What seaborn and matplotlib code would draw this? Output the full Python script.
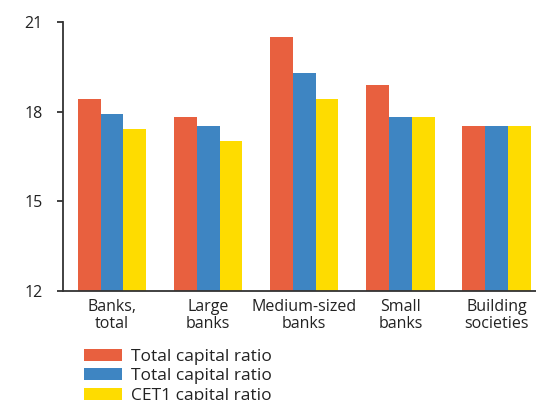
import matplotlib
matplotlib.use("Agg")
import matplotlib.pyplot as plt
import seaborn as sns
import pandas as pd
from matplotlib.patches import Patch

# Capital ratios by institution group (per cent)
categories = ["Banks,\ntotal", "Large\nbanks", "Medium-sized\nbanks", "Small\nbanks", "Building\nsocieties"]
total_ratio_a = [18.42, 17.82, 20.49, 18.89, 17.52]
total_ratio_b = [17.92, 17.52, 19.29, 17.82, 17.52]
cet1_ratio = [17.42, 17.02, 18.42, 17.82, 17.52]

series_keys = ["total_a", "total_b", "cet1"]
series_labels = ["Total capital ratio", "Total capital ratio", "CET1 capital ratio"]
series_colors = ["#E8603F", "#3E85C2", "#FEDC00"]

y_ticks = [12, 15, 18, 21]

df = pd.DataFrame({
    "category": categories * 3,
    "series": [series_keys[0]] * 5 + [series_keys[1]] * 5 + [series_keys[2]] * 5,
    "value": total_ratio_a + total_ratio_b + cet1_ratio,
})

sns.set_theme(style="white")
plt.rcParams["font.family"] = ["Open Sans", "DejaVu Sans"]

fig = plt.figure(figsize=(5.36, 4.0), dpi=100)
ax = fig.add_axes([63 / 536, 1 - 291 / 400, 1 - 63 / 536, (291 - 22) / 400])

sns.barplot(
    data=df, x="category", y="value", hue="series",
    hue_order=series_keys, palette=series_colors,
    width=0.71, saturation=1, linewidth=0, ax=ax, legend=False,
)
for patch in ax.patches:
    patch.set_edgecolor("none")

ax.set_ylim(12, 21)
ax.set_xlim(-0.51, 4.41)
ax.set_yticks(y_ticks)
ax.set_xlabel("")
ax.set_ylabel("")

for side in ["top", "right"]:
    ax.spines[side].set_visible(False)
for side in ["left", "bottom"]:
    ax.spines[side].set_color("#333333")
    ax.spines[side].set_linewidth(1.3)

ax.tick_params(axis="y", direction="out", length=4.5, width=1.3, color="#333333",
               pad=10, labelsize=11.5, labelcolor="#222222", left=True)
ax.tick_params(axis="x", length=0, pad=6, labelsize=11.5, labelcolor="#222222")
for lbl in ax.get_xticklabels():
    lbl.set_linespacing(1.08)

handles = [Patch(facecolor=c, edgecolor="none") for c in series_colors]
fig.legend(
    handles, series_labels, loc="upper left",
    bbox_to_anchor=(84 / 536, 1 - 349 / 400), frameon=False,
    fontsize=12.5, handlelength=2.2, handleheight=0.7, handletextpad=0.5,
    labelspacing=0.18, borderpad=0, borderaxespad=0, labelcolor="#222222",
)

fig.savefig("out.png", dpi=100)
